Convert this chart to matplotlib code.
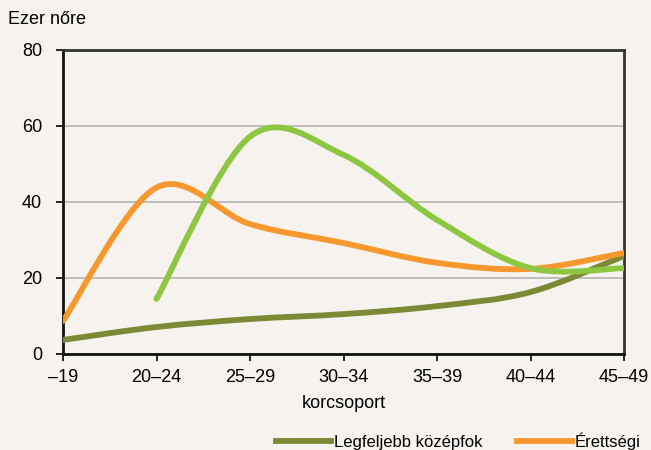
import numpy as np
import matplotlib.pyplot as plt
from matplotlib.path import Path
from matplotlib.patches import PathPatch
from matplotlib.lines import Line2D

plt.rcParams['font.family'] = ['Liberation Sans', 'DejaVu Sans']

korcsoport = ['–19', '20–24', '25–29', '30–34', '35–39', '40–44', '45–49']
kozepfok = [3.7, 7.1, 9.2, 10.5, 12.6, 16.3, 25.8]
erettsegi = [8.7, 43.8, 34.2, 29.2, 24.0, 22.4, 26.6]
felsofok = [None, 14.5, 57.2, 52.4, 35.3, 22.6, 22.6]


def smooth_path(xs, ys):
    # Excel-style smoothed line: cubic Bezier through the points
    pts = np.array([(x, y) for x, y in zip(xs, ys) if y is not None], dtype=float)
    verts = [pts[0]]
    codes = [Path.MOVETO]
    n = len(pts)
    for i in range(n - 1):
        p0 = pts[i - 1] if i > 0 else pts[i]
        p1 = pts[i]
        p2 = pts[i + 1]
        p3 = pts[i + 2] if i + 2 < n else pts[i + 1]
        c1 = p1 + (p2 - p0) / 6
        c2 = p2 - (p3 - p1) / 6
        verts += [c1, c2, p2]
        codes += [Path.CURVE4] * 3
    return Path(verts, codes)


bg = '#f6f3ef'
fig = plt.figure(figsize=(6.51, 4.5), dpi=100, facecolor=bg)
ax = fig.add_axes([63 / 651, 1 - 354 / 450, 561 / 651, 304 / 450], facecolor=bg)

x = np.arange(len(korcsoport))
series = [(kozepfok, '#7d8a35'), (erettsegi, '#f7982f'), (felsofok, '#8dc641')]
for vals, col in series:
    patch = PathPatch(smooth_path(x, vals), facecolor='none', edgecolor=col,
                      lw=4.2, capstyle='round', joinstyle='round', zorder=3)
    ax.add_patch(patch)

ax.set_xlim(0, len(korcsoport) - 1)
ax.set_ylim(0, 80)
ax.set_xticks(x)
ax.set_xticklabels(korcsoport)
ax.set_yticks([0, 20, 40, 60, 80])
ax.yaxis.grid(True, color='#b4b4b4', lw=1.2)
ax.set_axisbelow(True)
for s in ['left', 'bottom']:
    ax.spines[s].set_linewidth(2)
    ax.spines[s].set_color('#111111')
for s in ['top', 'right']:
    ax.spines[s].set_linewidth(2)
    ax.spines[s].set_color('#333333')
ax.tick_params(axis='both', direction='out', length=5, width=1.2, labelsize=13, pad=6)
ax.tick_params(axis='y', pad=10)

ax.set_xlabel('korcsoport', fontsize=13, labelpad=6)
fig.text(8 / 651, 1 - 20 / 450, 'Ezer nőre', fontsize=13, va='center', ha='left')

handles = [Line2D([], [], color='#7d8a35', lw=4.2),
           Line2D([], [], color='#f7982f', lw=4.2)]
fig.legend(handles, ['Legfeljebb középfok', 'Érettségi'], loc='center left',
           bbox_to_anchor=(261 / 651, 1 - 441 / 450), ncol=2, frameon=False,
           fontsize=12, handlelength=3.3, handletextpad=0.15, columnspacing=2.1)

fig.savefig('out.png', dpi=100, facecolor=bg)
